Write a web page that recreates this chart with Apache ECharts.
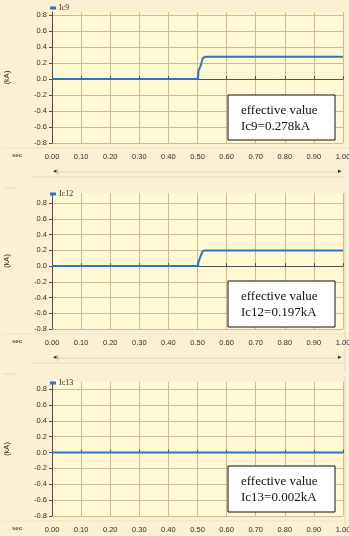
<!DOCTYPE html>
<html><head><meta charset="utf-8">
<script src="https://cdn.jsdelivr.net/npm/echarts@6/dist/echarts.min.js"></script>
<style>html,body{margin:0;padding:0;background:#fcf0d4;}#c{width:349px;height:536px;}</style>
</head><body><div id="c"></div>
<script>
// ---- data ----
const xTickLabels = ['0.00','0.10','0.20','0.30','0.40','0.50','0.60','0.70','0.80','0.90','1.00'];
const yTickValues = [-0.8,-0.6,-0.4,-0.2,0.0,0.2,0.4,0.6,0.8];
const seriesNames = ['Ic9','Ic12','Ic13'];
const t9  = [0, 0.502, 0.503, 0.511, 0.518, 0.526, 1.0];
const ic9 = [0, 0,     0.10,  0.17,  0.26,  0.28,  0.28];
const t12  = [0, 0.502, 0.503, 0.511, 0.518, 0.526, 1.0];
const ic12 = [0, 0,     0.05,  0.13,  0.19,  0.20,  0.20];
const t13  = [0, 1.0];
const ic13 = [0, 0];
const effText = ['Ic9=0.278kA','Ic12=0.197kA','Ic13=0.002kA'];

const pts = (t, v) => t.map((x, i) => [x, v[i]]);
const datas = [pts(t9, ic9), pts(t12, ic12), pts(t13, ic13)];

// layout per panel
const panels = [
  {top: 12,  height: 131, ymax: 0.84, legendTop: 4,   box: [228, 95, 107, 45]},
  {top: 193, height: 136, ymax: 0.93, legendTop: 190, box: [228, 281, 107, 46]},
  {top: 382, height: 134, ymax: 0.89, legendTop: 379, box: [228, 466, 107, 46]}
];
const LINE = '#2a76bf';
const GRIDC = '#cfbc8e';
const AX = '#505050';
const TXT = '#2e2e2e';

const grids = [], xAxes = [], yAxes = [], series = [], legends = [], graphics = [];
panels.forEach((p, i) => {
  grids.push({left: 52, right: 6, top: p.top, height: p.height, show: true,
    outerBoundsMode: 'none', containLabel: false,
    backgroundColor: '#fff8d2', borderWidth: 0});
  xAxes.push({type: 'value', gridIndex: i, min: 0, max: 1, interval: 0.1, offset: 7,
    axisLine: {show: true, lineStyle: {color: AX, width: 1}},
    axisTick: {show: true, inside: true, length: 3, lineStyle: {color: AX}},
    axisLabel: {fontSize: 7.5, color: TXT, fontFamily: 'Liberation Sans', margin: 3,
      formatter: v => xTickLabels[Math.round(v * 10)]},
    splitLine: {show: true, lineStyle: {color: GRIDC, width: 1}}});
  yAxes.push({type: 'value', gridIndex: i, min: -0.8, max: p.ymax, interval: 0.2,
    name: '(kA)', nameLocation: 'middle', nameRotate: 90, nameGap: 41,
    nameTextStyle: {fontSize: 7.5, color: TXT, fontFamily: 'Liberation Sans'},
    axisLine: {show: true, onZero: false, lineStyle: {color: AX, width: 1}},
    axisTick: {show: true, length: 3, lineStyle: {color: AX}, customValues: yTickValues},
    axisLabel: {fontSize: 7.5, color: TXT, fontFamily: 'Liberation Sans', margin: 5,
      customValues: yTickValues, formatter: v => v.toFixed(1)},
    splitLine: {show: true, lineStyle: {color: GRIDC, width: 1}}});
  series.push({name: seriesNames[i], type: 'line', xAxisIndex: i, yAxisIndex: i,
    data: datas[i], showSymbol: false, symbol: 'none', animation: false,
    lineStyle: {color: LINE, width: 2}, itemStyle: {color: LINE}});
  legends.push({data: [seriesNames[i]], left: 50, top: p.legendTop, itemWidth: 6, itemHeight: 3,
    itemGap: 2, icon: 'rect', padding: 0,
    textStyle: {fontSize: 8, color: TXT, fontFamily: 'Liberation Serif', padding: [0,0,0,-2]}});
  const b = p.box;
  graphics.push({type: 'rect', shape: {x: b[0], y: b[1], width: b[2], height: b[3]},
    style: {fill: '#ffffff', stroke: '#111', lineWidth: 1}, z: 100});
  graphics.push({type: 'text', x: b[0] + 13, y: b[1] + 8, z: 101,
    style: {text: 'effective value\n' + effText[i], font: '13px "Liberation Serif"', fill: '#111', lineHeight: 16}});
  const axY = p.top + p.height + 7;
  graphics.push({type: 'text', x: 12, y: axY + 2, z: 50,
    style: {text: 'sec', font: 'bold 6px "Liberation Sans"', fill: '#555'}});
  graphics.push({type: 'line', shape: {x1: 3, y1: p.top + p.height + 5, x2: 349, y2: p.top + p.height + 5},
    style: {stroke: '#efe2c4', lineWidth: 1}, z: 1});
  if (i < 2) {
    const sy = axY + 22;
    graphics.push({type: 'line', shape: {x1: 58, y1: sy, x2: 338, y2: sy}, style: {stroke: '#ded6c6', lineWidth: 1}});
    graphics.push({type: 'line', shape: {x1: 58, y1: sy - 3, x2: 58, y2: sy + 3}, style: {stroke: '#bbb', lineWidth: 1}});
    graphics.push({type: 'text', x: 53, y: sy - 4, style: {text: '◂', font: '7px "DejaVu Sans"', fill: '#333'}});
    graphics.push({type: 'text', x: 338, y: sy - 4, style: {text: '▸', font: '7px "DejaVu Sans"', fill: '#333'}});
    graphics.push({type: 'line', shape: {x1: 32, y1: sy + 5, x2: 345, y2: sy + 5}, style: {stroke: '#e6d9bd', lineWidth: 1}});
    graphics.push({type: 'line', shape: {x1: 5, y1: sy + 16, x2: 15, y2: sy + 16}, style: {stroke: '#e0d3b6', lineWidth: 1}});
    graphics.push({type: 'line', shape: {x1: 345, y1: sy + 19, x2: 345, y2: sy + 200}, style: {stroke: '#e3d8c0', lineWidth: 1}});
  }
});

const chart = echarts.init(document.getElementById('c'), null, {renderer: 'canvas'});
chart.setOption({
  backgroundColor: '#fcf0d4',
  animation: false,
  grid: grids, xAxis: xAxes, yAxis: yAxes, series: series, legend: legends,
  graphic: graphics
});
</script></body></html>
